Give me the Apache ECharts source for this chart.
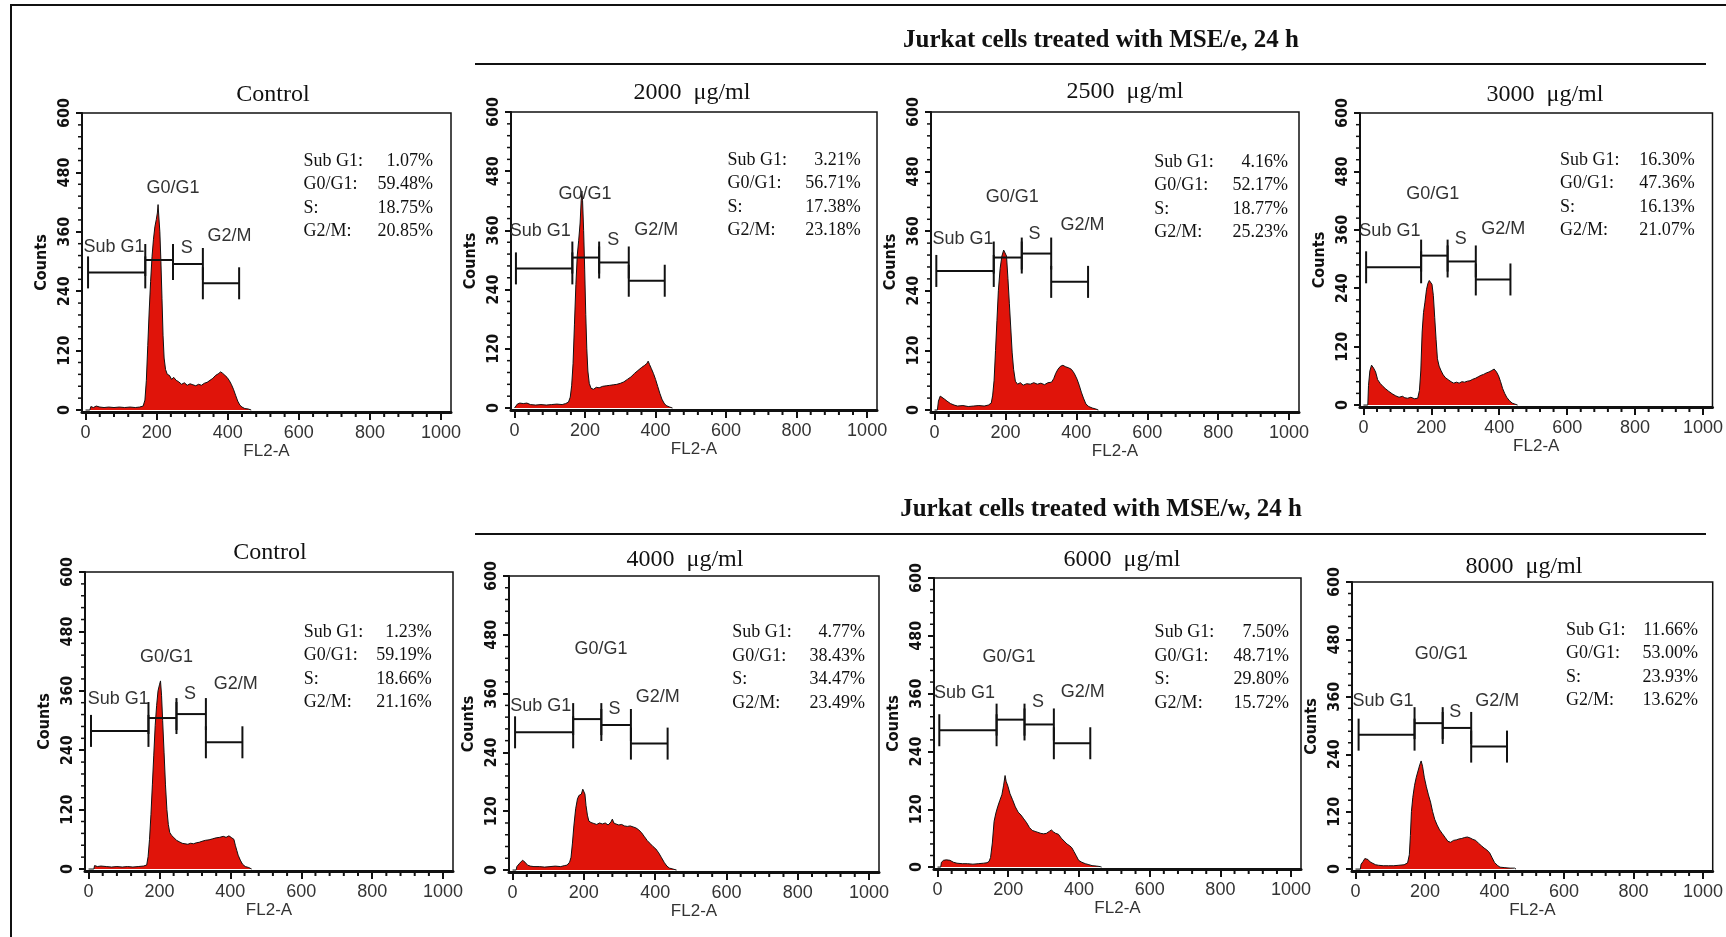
<!DOCTYPE html>
<html>
<head>
<meta charset="utf-8">
<title>Jurkat cells cell-cycle histograms</title>
<script src="https://cdn.jsdelivr.net/npm/echarts@6.0.0/dist/echarts.min.js"></script>
<style>
  html, body { margin: 0; padding: 0; background: #fff; }
  #chart { width: 1726px; height: 937px; }
</style>
</head>
<body>
<div id="chart"></div>
<script>
// ---- data ----
const groupTitles = ['Jurkat cells treated with MSE/e, 24 h', 'Jurkat cells treated with MSE/w, 24 h']
const panelTitles = ['Control', '2000  μg/ml', '2500  μg/ml', '3000  μg/ml',
                     'Control', '4000  μg/ml', '6000  μg/ml', '8000  μg/ml']

const fl2Ticks = [0, 200, 400, 600, 800, 1000]
const fl2MinorTicks = [40, 80, 120, 160, 240, 280, 320, 360, 440, 480, 520, 560,
                       640, 680, 720, 760, 840, 880, 920, 960]
const countTicks = [0, 120, 240, 360, 480, 600]
const countMinorTicks = [24, 48, 72, 96, 144, 168, 192, 216, 264, 288, 312, 336,
                         384, 408, 432, 456, 504, 528, 552, 576]

const gateNames = ['Sub G1', 'G0/G1', 'S', 'G2/M']
const statLabels = ['Sub G1:', 'G0/G1:', 'S:', 'G2/M:']

// % Sub G1, G0/G1, S, G2/M
const statsE = [
  [1.07, 59.48, 18.75, 20.85],
  [3.21, 56.71, 17.38, 23.18],
  [4.16, 52.17, 18.77, 25.23],
  [16.30, 47.36, 16.13, 21.07]
]
const statsW = [
  [1.23, 59.19, 18.66, 21.16],
  [4.77, 38.43, 34.47, 23.49],
  [7.50, 48.71, 29.80, 15.72],
  [11.66, 53.00, 23.93, 13.62]
]

// gate markers: [from, to, level]
const gatesCtrlE = [[7, 168, 278], [168, 246, 303], [246, 330, 295], [330, 432, 256]]
const gates2000 = [[4, 164, 283], [164, 240, 305], [240, 324, 295], [324, 426, 258]]
const gates2500 = [[5, 167, 280], [167, 246, 307], [246, 329, 315], [329, 433, 258]]
const gates3000 = [[8, 170, 283], [170, 248, 307], [248, 331, 295], [331, 433, 258]]
const gatesCtrlW = [[7, 169, 279], [169, 248, 305], [248, 331, 313], [331, 434, 256]]
const gates4000 = [[7, 170, 281], [170, 249, 308], [249, 332, 296], [332, 435, 258]]
const gates6000 = [[5, 167, 284], [167, 246, 306], [246, 329, 296], [329, 432, 257]]
const gates8000 = [[9, 170, 281], [170, 251, 305], [251, 333, 295], [333, 436, 256]]

// histograms: [FL2-A channel, counts]
const histCtrlE = [[0,0],[12,0],[15,7],[22,5],[30,8],[40,6],[52,5],[65,6],[80,5],[95,6],[110,5],[125,6],[140,5],[152,6],[162,8],[167,20],[171,60],[175,130],[179,200],[183,260],[187,310],[191,345],[195,370],[199,385],[202,398],[204,415],[206,392],[209,360],[212,300],[215,225],[218,150],[221,105],[225,82],[230,72],[236,70],[242,62],[248,66],[255,60],[262,57],[270,52],[278,55],[286,50],[294,53],[302,51],[310,49],[318,52],[326,50],[334,54],[342,56],[350,60],[358,64],[366,70],[373,73],[380,77],[386,74],[392,70],[398,66],[404,60],[410,52],[416,42],[422,30],[428,18],[434,10],[440,6],[448,3],[458,2],[466,0]]
const hist2000 = [[0,0],[5,0],[8,8],[15,10],[25,9],[35,10],[45,7],[60,6],[75,7],[90,6],[105,7],[120,8],[135,7],[145,9],[153,12],[158,22],[162,45],[166,90],[170,170],[174,250],[178,310],[182,340],[186,375],[189,420],[191,440],[193,420],[196,360],[199,280],[202,190],[205,120],[208,75],[212,50],[217,40],[224,38],[232,42],[240,41],[250,44],[260,45],[270,46],[280,47],[290,48],[300,50],[310,53],[320,58],[330,63],[340,70],[350,76],[360,82],[368,86],[375,90],[379,95],[383,88],[388,80],[394,70],[400,58],[406,44],[412,30],[418,18],[424,10],[430,5],[440,2],[448,0]]
const hist2500 = [[0,0],[8,0],[11,18],[16,28],[21,25],[28,22],[35,18],[45,13],[55,10],[65,8],[80,9],[95,7],[110,8],[125,9],[140,8],[152,10],[160,14],[164,30],[168,60],[172,120],[176,180],[180,240],[185,285],[190,310],[195,322],[199,326],[203,310],[207,265],[211,215],[215,165],[219,115],[223,82],[228,58],[234,52],[242,55],[250,50],[260,53],[270,52],[280,55],[290,52],[300,54],[310,51],[320,55],[330,56],[336,63],[342,74],[348,82],[355,88],[362,90],[370,87],[378,85],[386,82],[394,74],[402,62],[408,50],[414,36],[420,24],[427,12],[435,7],[445,4],[455,2],[462,0]]
const hist3000 = [[0,0],[13,0],[15,40],[19,70],[24,82],[30,76],[36,68],[42,52],[50,44],[58,38],[66,33],[75,28],[85,23],[95,19],[105,16],[115,18],[122,15],[130,14],[140,16],[150,13],[160,14],[165,30],[169,70],[173,150],[177,190],[181,210],[186,238],[190,250],[194,256],[198,260],[202,248],[206,225],[210,180],[214,135],[218,95],[223,80],[229,70],[235,62],[242,56],[250,52],[258,48],[266,45],[274,47],[282,45],[290,48],[298,47],[306,49],[314,50],[322,53],[330,55],[338,58],[346,61],[354,63],[362,66],[370,68],[378,71],[385,74],[392,68],[398,60],[404,48],[410,34],[416,24],[422,16],[430,9],[438,4],[446,2],[454,0]]
const histCtrlW = [[0,0],[15,0],[17,7],[25,5],[35,6],[50,5],[65,4],[80,5],[95,4],[110,5],[125,4],[140,5],[155,6],[164,8],[168,25],[172,60],[176,110],[180,170],[184,230],[188,290],[192,330],[196,360],[200,372],[203,380],[206,350],[209,300],[213,236],[217,170],[221,120],[225,90],[229,74],[234,68],[240,64],[248,58],[256,55],[264,52],[272,51],[280,50],[288,52],[296,51],[304,53],[312,54],[320,56],[330,58],[340,59],[350,61],[360,63],[370,64],[380,66],[388,64],[396,67],[404,63],[410,60],[414,48],[418,38],[422,28],[428,18],[434,10],[442,5],[452,3],[460,0]]
const hist4000 = [[0,0],[10,0],[12,7],[20,14],[28,20],[35,16],[42,10],[50,8],[60,7],[75,7],[90,6],[105,7],[120,8],[135,7],[145,9],[153,10],[160,16],[164,26],[168,55],[172,90],[177,125],[182,145],[186,152],[190,150],[193,155],[197,165],[200,168],[203,155],[206,132],[210,112],[214,100],[220,97],[228,95],[236,93],[244,96],[252,94],[260,96],[268,92],[276,98],[280,104],[284,96],[290,94],[298,92],[306,93],[314,90],[322,89],[330,90],[338,88],[346,86],[354,82],[362,76],[370,68],[378,60],[386,54],[394,48],[402,43],[410,35],[418,25],[426,15],[433,8],[440,4],[450,2],[460,0]]
const hist6000 = [[0,0],[9,0],[11,10],[17,14],[25,15],[35,14],[45,10],[55,8],[70,7],[85,7],[100,6],[115,7],[130,8],[140,9],[146,12],[150,20],[155,50],[160,95],[165,112],[170,125],[176,138],[182,150],[187,170],[191,190],[194,178],[199,168],[205,152],[212,140],[220,125],[228,114],[236,108],[244,100],[252,92],[260,82],[268,76],[276,74],[284,72],[292,70],[300,69],[308,70],[316,74],[322,77],[328,73],[334,70],[342,68],[350,60],[358,54],[366,48],[374,44],[380,40],[386,32],[392,24],[399,14],[408,10],[418,7],[428,5],[437,3],[450,2],[460,1],[464,0]]
const hist8000 = [[0,0],[14,0],[16,10],[22,16],[27,22],[31,25],[36,20],[42,15],[50,12],[58,9],[66,8],[80,7],[95,7],[110,7],[125,8],[140,9],[150,13],[155,30],[158,70],[161,120],[165,150],[170,175],[175,192],[180,205],[185,218],[189,226],[193,215],[198,192],[204,172],[210,155],[216,140],[222,120],[228,104],[235,92],[242,82],[250,74],[258,66],[266,58],[274,56],[282,60],[290,61],[298,63],[306,64],[314,66],[322,67],[330,65],[338,62],[346,60],[354,54],[362,49],[370,44],[378,40],[386,34],[393,24],[400,14],[408,8],[416,4],[430,3],[445,2],[458,2],[462,0]]

// ---- layout ----
const SANS = '"Liberation Sans", Arial, sans-serif'
const NARROW = '"Liberation Sans Narrow", "DejaVu Sans Condensed", "Liberation Sans", sans-serif'
const SERIF = '"Liberation Serif", "Times New Roman", serif'
const INK = '#111'
const FILL = '#e0140a'

// plot frames [left, top, width, height]
const frames = [
  [82, 113, 369, 299], [511, 112, 366, 298], [931, 112, 368, 300], [1360, 113, 353, 294],
  [85, 572, 368, 299], [509, 576, 370, 296], [934, 578, 367, 291], [1352, 582, 361, 289]
]
const titleCenters = [[273, 95], [692, 93], [1125, 92], [1545, 95],
                      [270, 553], [685, 560], [1122, 560], [1524, 567]]
// gate label anchors in data coords: Sub G1, G0/G1, S, G2/M
const gateLabelPos = [
  [[80, 330], [246, 448], [285, 327], [405, 352]],
  [[73, 359], [200, 434], [280, 341], [402, 361]],
  [[80, 344], [219, 428], [282, 354], [417, 372]],
  [[78, 358], [204, 433], [287, 341], [412, 361]],
  [[84, 344], [220, 428], [286, 353], [415, 373]],
  [[79, 334], [248, 451], [286, 329], [407, 354]],
  [[76, 361], [202, 436], [284, 342], [411, 363]],
  [[79, 351], [247, 449], [287, 328], [408, 351]]
]
// stats block in data coords: [label left, value right, first line]
const statPos = [[613, 977, 503], [604, 982, 503], [620, 997, 499], [579, 976, 503],
                 [607, 968, 479], [616, 989, 485], [614, 994, 487], [606, 986, 500]]

const histograms = [histCtrlE, hist2000, hist2500, hist3000, histCtrlW, hist4000, hist6000, hist8000]
const gates = [gatesCtrlE, gates2000, gates2500, gates3000, gatesCtrlW, gates4000, gates6000, gates8000]
const stats = statsE.concat(statsW)

const X_MIN = -10, X_MAX = 1028, Y_MIN = -4, Y_MAX = 600

function renderGate(params, api) {
  const a = api.coord([api.value(0), api.value(2)])
  const b = api.coord([api.value(1), api.value(2)])
  const h = 16
  const st = { stroke: INK, lineWidth: 2 }
  return {
    type: 'group',
    children: [
      { type: 'line', shape: { x1: a[0], y1: a[1], x2: b[0], y2: b[1] }, style: st },
      { type: 'line', shape: { x1: a[0], y1: a[1] - h, x2: a[0], y2: a[1] + h }, style: st },
      { type: 'line', shape: { x1: b[0], y1: b[1] - h, x2: b[0], y2: b[1] + h }, style: st }
    ]
  }
}

function makeGateLabel(params, api) {
  const p = api.coord([api.value(0), api.value(1)])
  return {
    type: 'text',
    style: {
      x: p[0], y: p[1], text: gateNames[params.dataIndex],
      fill: '#333', fontSize: 18, fontFamily: SANS,
      align: 'center', verticalAlign: 'middle'
    }
  }
}

function makeStatsRenderer(values) {
  return function (params, api) {
    const l = api.coord([api.value(0), api.value(2)])
    const r = api.coord([api.value(1), api.value(2)])
    const children = []
    statLabels.forEach((lab, k) => {
      const y = l[1] + k * 23.5
      children.push({ type: 'text', style: { x: l[0], y, text: lab, fill: INK, fontSize: 18, fontFamily: SERIF, align: 'left', verticalAlign: 'middle' } })
      children.push({ type: 'text', style: { x: r[0], y, text: values[k].toFixed(2) + '%', fill: INK, fontSize: 18, fontFamily: SERIF, align: 'right', verticalAlign: 'middle' } })
    })
    return { type: 'group', children }
  }
}

// short minor ticks below the x axis / left of the y axis
function renderMinorX(params, api) {
  const p = api.coord([api.value(0), Y_MIN])
  return { type: 'line', shape: { x1: p[0], y1: p[1], x2: p[0], y2: p[1] + 5 }, style: { stroke: INK, lineWidth: 2 } }
}
function renderMinorY(params, api) {
  const p = api.coord([X_MIN, api.value(1)])
  return { type: 'line', shape: { x1: p[0], y1: p[1], x2: p[0] - 4, y2: p[1] }, style: { stroke: INK, lineWidth: 1.5 } }
}

const grid = [], xAxis = [], yAxis = [], series = []
const graphic = []

frames.forEach((f, i) => {
  grid.push({ left: f[0], top: f[1], width: f[2], height: f[3], show: true, borderColor: INK, borderWidth: 1.5 })

  xAxis.push({
    gridIndex: i, type: 'value', min: X_MIN, max: X_MAX, position: 'bottom',
    axisLine: { onZero: false, lineStyle: { color: INK, width: 3 } },
    axisTick: { customValues: fl2Ticks, length: 8, lineStyle: { color: INK, width: 2 } },
    axisLabel: { customValues: fl2Ticks, formatter: v => String(v), color: '#333', fontSize: 18, fontFamily: SANS, margin: 12 },
    splitLine: { show: false },
    name: 'FL2-A', nameLocation: 'middle', nameGap: 27,
    nameTextStyle: { color: '#333', fontSize: 17, fontFamily: SANS }
  })
  yAxis.push({
    gridIndex: i, type: 'value', min: Y_MIN, max: Y_MAX, position: 'left',
    axisLine: { onZero: false, lineStyle: { color: INK, width: 2 } },
    axisTick: { customValues: countTicks, length: 6, lineStyle: { color: INK, width: 2 } },
    axisLabel: { customValues: countTicks, rotate: 90, color: INK, fontWeight: 'bold', fontSize: 16, fontFamily: NARROW, margin: 9 },
    splitLine: { show: false },
    name: 'Counts', nameLocation: 'middle', nameGap: 32,
    nameTextStyle: { color: INK, fontWeight: 'bold', fontSize: 16, fontFamily: NARROW }
  })

  series.push({
    type: 'line', xAxisIndex: i, yAxisIndex: i, data: histograms[i],
    symbol: 'none', lineStyle: { color: INK, width: 1 },
    areaStyle: { color: FILL, opacity: 1 }, z: 2
  })
  series.push({
    type: 'custom', xAxisIndex: i, yAxisIndex: i, silent: true,
    data: fl2MinorTicks.map(v => [v, Y_MIN]), renderItem: renderMinorX, z: 5
  })
  series.push({
    type: 'custom', xAxisIndex: i, yAxisIndex: i, silent: true,
    data: countMinorTicks.map(v => [X_MIN, v]), renderItem: renderMinorY, z: 5
  })
  series.push({
    type: 'custom', xAxisIndex: i, yAxisIndex: i, data: gates[i],
    encode: { x: [0, 1], y: 2 }, renderItem: renderGate, z: 4
  })
  series.push({
    type: 'custom', xAxisIndex: i, yAxisIndex: i, data: gateLabelPos[i],
    renderItem: makeGateLabel, z: 4
  })
  series.push({
    type: 'custom', xAxisIndex: i, yAxisIndex: i, data: [statPos[i]],
    encode: { x: [0, 1], y: 2 }, renderItem: makeStatsRenderer(stats[i]), z: 4
  })

  graphic.push({
    type: 'text', x: titleCenters[i][0], y: titleCenters[i][1],
    style: { text: panelTitles[i], fill: INK, fontSize: 24, fontFamily: SERIF, align: 'center', verticalAlign: 'middle' }
  })
})

// group headers + rules
;[[1101, 41, 64], [1101, 510, 534]].forEach((h, k) => {
  graphic.push({
    type: 'text', x: h[0], y: h[1],
    style: { text: groupTitles[k], fill: INK, fontSize: 25, fontWeight: 'bold', fontFamily: SERIF, align: 'center', verticalAlign: 'middle' }
  })
  graphic.push({ type: 'line', shape: { x1: 475, y1: h[2], x2: 1706, y2: h[2] }, style: { stroke: INK, lineWidth: 2 } })
})
// outer frame (top + left edges)
graphic.push({ type: 'polyline', shape: { points: [[11, 937], [11, 5], [1726, 5]] }, style: { stroke: INK, lineWidth: 2, fill: null } })

const chart = echarts.init(document.getElementById('chart'), null, { renderer: 'canvas' })
chart.setOption({
  backgroundColor: '#fff',
  animation: false,
  grid, xAxis, yAxis, series, graphic
})
</script>
</body>
</html>
